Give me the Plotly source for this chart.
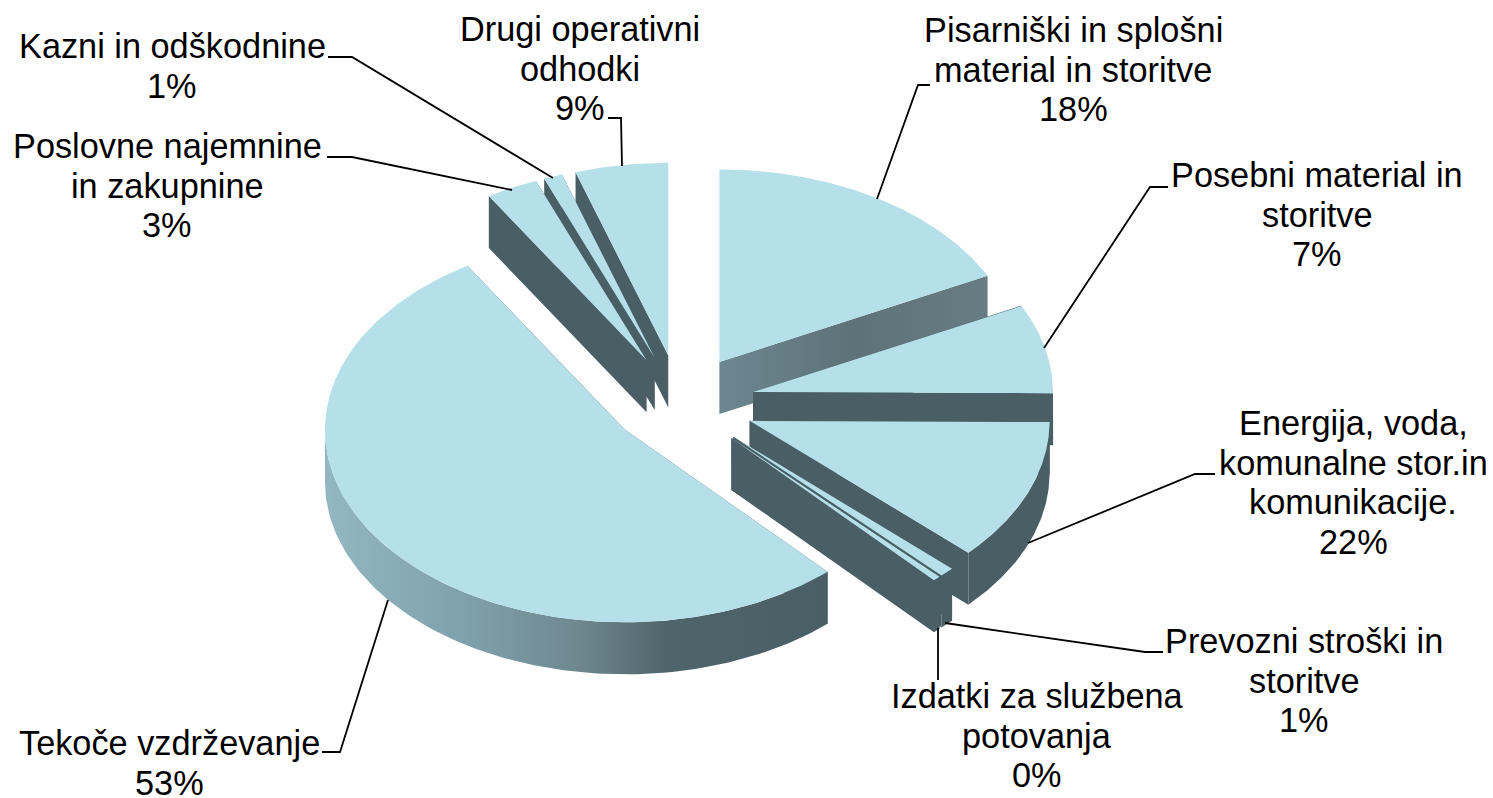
import numpy as np
import plotly.graph_objects as go

# Clockwise from 12 o'clock
categories = ["Pisarniški in splošni material in storitve", "Posebni material in storitve",
              "Energija, voda, komunalne stor.in komunikacije.", "Prevozni stroški in storitve",
              "Izdatki za službena potovanja", "Tekoče vzdrževanje",
              "Poslovne najemnine in zakupnine", "Kazni in odškodnine", "Drugi operativni odhodki"]
# Share of the circle each slice occupies in the picture (%), and the printed percentages
drawn_share = [17.6, 7.5, 11.9, 0.8, 0.4, 53.0, 2.8, 1.0, 5.0]
printed_pct = [18, 7, 22, 1, 0, 53, 3, 1, 9]
explode = [75, 75, 75, 75, 75, 69, 75, 75, 75]
label_lines = [["Pisarniški in splošni", "material in storitve"], ["Posebni material in", "storitve"],
               ["Energija, voda,", "komunalne stor.in", "komunikacije."], ["Prevozni stroški in", "storitve"],
               ["Izdatki za službena", "potovanja"], ["Tekoče vzdrževanje"],
               ["Poslovne najemnine", "in zakupnine"], ["Kazni in odškodnine"], ["Drugi operativni", "odhodki"]]
# Centre x and first-line y of each label block (axes are pixel-scaled)
label_cx = [1073, 1317, 1353, 1304, 1037, 169, 167, 172, 580]
label_y0 = [30, 175, 423, 641, 696, 743, 146, 46, 29]
leaders = [[(930, 85), (918, 85), (877, 199)], [(1168, 187), (1150, 187), (1044, 348)],
           [(1215, 474), (1195, 474), (1028, 543)], [(1163, 652), (1145, 652), (945, 623)],
           [(938, 680), (938, 628)], [(322, 752), (340, 752), (388, 600)],
           [(327, 157), (352, 157), (512, 190)], [(328, 57), (352, 57), (553, 178)],
           [(608, 118), (621, 118), (622, 166)]]

CX, CY, R, K, DEPTH = 680, 403, 300, 0.642, 52
TOP = "#b5dfe9"
DARK = "#4a5e65"
draw_order = [8, 7, 6, 0, 1, 2, 3, 4, 5]
WALL_GRAD = [[0, "#93b8c2"], [0.3, "#7d9fa9"], [0.5, "#6f8890"], [0.68, "#4f656c"], [1, "#4a5e65"]]
PIS_GRAD = [[0, "#6c8790"], [0.5, "#5d7279"], [1, "#677c83"]]

edges = np.concatenate([[0], np.cumsum(drawn_share)]) * 3.6
fig = go.Figure()


def poly(x, y, color=None, grad=None):
    kw = dict(fillcolor=color) if grad is None else dict(
        fillgradient=dict(type="horizontal", colorscale=grad, start=float(min(x)), stop=float(max(x))))
    fig.add_trace(go.Scatter(x=list(x), y=list(y), mode="lines", fill="toself", line=dict(width=0, color=color or DARK),
                             hoverinfo="skip", showlegend=False, **kw))


for i in draw_order:
    a0, a1 = np.radians(edges[i]), np.radians(edges[i + 1])
    mid = (a0 + a1) / 2
    ax = CX + explode[i] * np.sin(mid)
    ay = CY - K * explode[i] * np.cos(mid)
    px = lambda t: ax + R * np.sin(t)
    py = lambda t: ay - K * R * np.cos(t)
    # radial cut faces
    for a in (a0, a1):
        poly([ax, px(a), px(a), ax], [ay, py(a), py(a) + DEPTH, ay + DEPTH],
             color=DARK, grad=PIS_GRAD if i == 0 else None)
    # visible rim wall
    lo, hi = max(a0, np.pi / 2), min(a1, 3 * np.pi / 2)
    if hi > lo:
        t = np.linspace(lo, hi, 120)
        wx = np.concatenate([px(t), px(t[::-1])])
        wy = np.concatenate([py(t), py(t[::-1]) + DEPTH])
        poly(wx, wy, color=DARK, grad=WALL_GRAD if i == 5 else None)
    # top surface
    t = np.linspace(a0, a1, 200)
    poly(np.concatenate([[ax], px(t)]), np.concatenate([[ay], py(t)]), color=TOP)

# leader lines
shapes = []
for pts in leaders:
    path = "M " + " L ".join(f"{x} {y}" for x, y in pts)
    shapes.append(dict(type="path", path=path, line=dict(color="black", width=1.8), layer="above"))

# labels, one annotation per line for the 40 px line pitch
annotations = []
for lines, pct, cx, y0 in zip(label_lines, printed_pct, label_cx, label_y0):
    for n, txt in enumerate(lines + [f"{pct}%"]):
        annotations.append(dict(x=cx, y=y0 + n * 39.7, text=txt, showarrow=False, xanchor="center", yanchor="middle",
                                font=dict(family="Liberation Sans, Arial, sans-serif", size=34.3, color="black")))

fig.update_layout(
    width=1493, height=798,
    margin=dict(l=0, r=0, t=0, b=0), paper_bgcolor="white", plot_bgcolor="white", showlegend=False,
    xaxis=dict(range=[0, 1493], visible=False, fixedrange=True),
    yaxis=dict(range=[798, 0], visible=False, fixedrange=True),
    shapes=shapes, annotations=annotations,
)
fig.write_html("out.html", config=dict(displayModeBar=False),
               post_script="document.body.style.margin='0';document.body.style.overflow='hidden';")
